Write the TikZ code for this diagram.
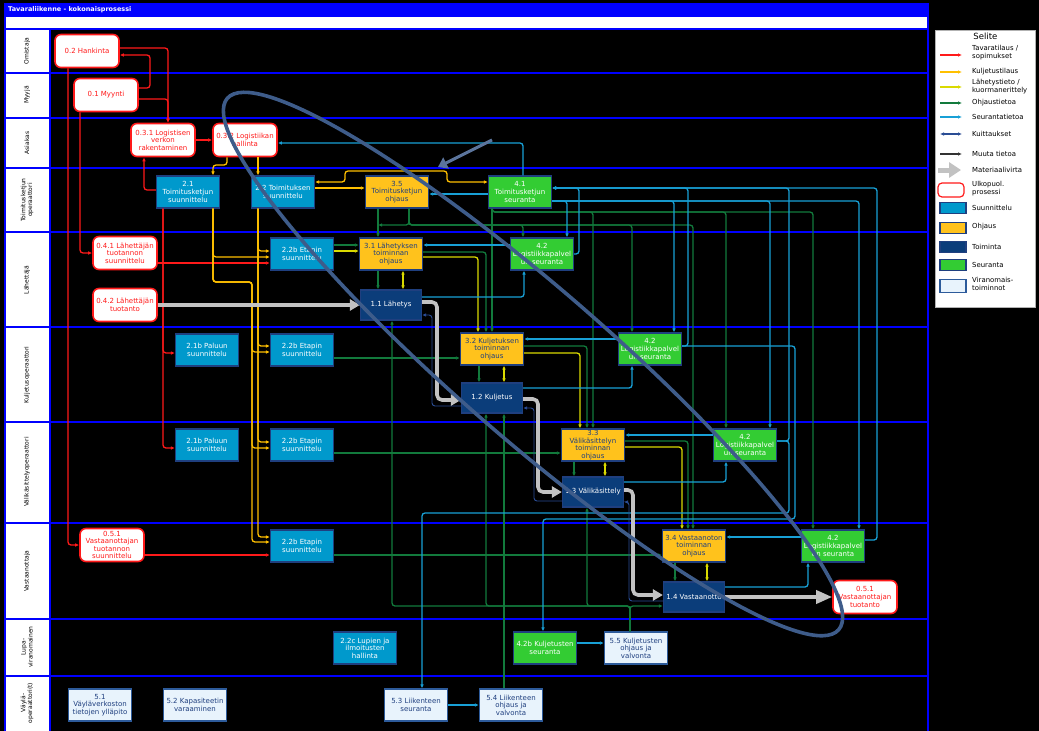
\documentclass[tikz,border=0pt]{standalone}
\usepackage{fontspec}
\setmainfont{DejaVu Sans}
\usetikzlibrary{arrows.meta, positioning}
\definecolor{LaneBlue}{HTML}{0000FF}
\definecolor{BoxEdge}{HTML}{1F3F7F}
\definecolor{PlanBlue}{HTML}{0099CC}
\definecolor{CtrlGold}{HTML}{FFC21C}
\definecolor{OperNavy}{HTML}{0B3D7A}
\definecolor{MonGreen}{HTML}{33CC33}
\definecolor{AuthPale}{HTML}{E8F3FC}
\definecolor{AuthEdge}{HTML}{2D5B9B}
\definecolor{OrderRed}{HTML}{FF1A1A}
\definecolor{TransOrange}{HTML}{FFC000}
\definecolor{ShipYellow}{HTML}{DADA00}
\definecolor{CtrlGreen}{HTML}{127A3C}
\definecolor{MonCyan}{HTML}{18A0D6}
\definecolor{AckNavy}{HTML}{2A4C94}
\definecolor{MatGrey}{HTML}{C2C2C2}
\definecolor{RingBlue}{HTML}{3E5C8A}

\begin{document}
\begin{tikzpicture}[
    x=1pt, y=-1pt,
    box/.style={rectangle, align=center, inner xsep=1pt, inner ysep=0.5pt, line width=1.2pt,
      font=\fontsize{7}{7.6}\selectfont},
    proc/.style={box, minimum width=63pt, minimum height=32pt},
    act/.style={box, minimum width=61pt, minimum height=30pt},
    ext/.style={box, draw=OrderRed, fill=white, text=OrderRed, line width=1.6pt, rounded corners=6pt,
      minimum width=64pt, minimum height=33pt},
    plan/.style={draw=BoxEdge, fill=PlanBlue, text=white},
    ctrl/.style={draw=BoxEdge, fill=CtrlGold, text=BoxEdge},
    oper/.style={draw=BoxEdge, fill=OperNavy, text=white},
    mon/.style={draw=BoxEdge, fill=MonGreen, text=white},
    auth/.style={draw=AuthEdge, fill=AuthPale, text=BoxEdge},
    flow/.style={line width=1.3pt, rounded corners=3pt, -{Latex[length=4pt,width=3.6pt]}},
    both/.style={arrows={Latex[length=4pt,width=3.6pt]-Latex[length=4pt,width=3.6pt]}},
    tav/.style={flow, color=OrderRed},
    kul/.style={flow, color=TransOrange},
    lht/.style={flow, color=ShipYellow},
    ohj/.style={flow, color=CtrlGreen},
    seu/.style={flow, color=MonCyan},
    kui/.style={flow, color=AckNavy, line width=0.9pt},
    muu/.style={flow, color=black!80},
    mat/.style={line width=3.6pt, color=MatGrey, rounded corners=5pt, -{Triangle[length=10pt,width=11pt]}},
    lane/.style={draw=LaneBlue, line width=1.6pt},
    lanelab/.style={rotate=90, align=center, text=black, inner sep=0pt, font=\fontsize{6}{6.8}\selectfont},
    legtxt/.style={anchor=west, align=left, text=black, inner sep=0pt, font=\fontsize{6.9}{8}\selectfont},
    ring/.style={draw=RingBlue, line width=3.6pt},
    notearrow/.style={draw=RingBlue!85!white, line width=3pt, -{Triangle[length=9pt,width=12pt]}}
  ]
    \useasboundingbox (0,0) rectangle (1039,731);
    \fill[black] (0,0) rectangle (1039,731);
    \fill[LaneBlue] (5,3) rectangle (928,17);
    \fill[white] (5,17) rectangle (928,29);
    \fill[white] (5,29) rectangle (50,731);
    \foreach \y in {29,73,118,168,232,327,422,523,619,676}
      \draw[lane] (5,\y) -- (928,\y);
    \draw[lane] (5,3) -- (5,731) (50,29) -- (50,731) (928,3) -- (928,731);
    \node[anchor=west, text=white, inner sep=0pt, font=\fontsize{6.5}{7}\selectfont\bfseries] (title) at (8,10) {Tavaraliikenne - kokonaisprosessi};

    \node[lanelab] (lnOmi) at (27,51) {Omistaja};
    \node[lanelab] (lnMyy) at (27,95) {Myyjä};
    \node[lanelab] (lnAsi) at (27,143) {Asiakas};
    \node[lanelab] (lnTko) at (27,200) {Toimitusketjun\\operaattori};
    \node[lanelab] (lnLah) at (27,280) {Lähettäjä};
    \node[lanelab] (lnKul) at (27,375) {Kuljetusoperaattori};
    \node[lanelab] (lnVal) at (27,472) {Välikäsittelyoperaattori};
    \node[lanelab] (lnVas) at (27,571) {Vastaanottaja};
    \node[lanelab] (lnLup) at (27,647) {Lupa-\\viranomainen};
    \node[lanelab] (lnVay) at (27,703) {Väylä-\\operaattori(t)};

    \node[ext] (hank) at (87,51) {0.2 Hankinta};
    \node[ext] (myyn) at (106,95) {0.1 Myynti};
    \node[ext] (verk) at (163,140) {0.3.1 Logistisen\\verkon\\rakentaminen};
    \node[ext] (hall) at (245,140) {0.3.2 Logistiikan\\hallinta};
    \node[ext] (ltsu) at (125,253) {0.4.1 Lähettäjän\\tuotannon\\suunnittelu};
    \node[ext] (ltuo) at (125,305) {0.4.2 Lähettäjän\\tuotanto};
    \node[ext] (vtsu) at (112,545) {0.5.1\\Vastaanottajan\\tuotannon\\suunnittelu};
    \node[ext] (vtuo) at (865,597) {0.5.1\\Vastaanottajan\\tuotanto};

    \node[proc, plan] (tks) at (188,192) {2.1\\Toimitusketjun\\suunnittelu};
    \node[proc, plan] (tos) at (283,192) {2.2 Toimituksen\\suunnittelu};
    \node[proc, plan] (etL) at (302,254) {2.2b Etapin\\suunnittelu};
    \node[proc, plan] (palK) at (207,350) {2.1b Paluun\\suunnittelu};
    \node[proc, plan] (etK) at (302,350) {2.2b Etapin\\suunnittelu};
    \node[proc, plan] (palW) at (207,445) {2.1b Paluun\\suunnittelu};
    \node[proc, plan] (etW) at (302,445) {2.2b Etapin\\suunnittelu};
    \node[proc, plan] (etV) at (302,546) {2.2b Etapin\\suunnittelu};
    \node[proc, plan] (lupa) at (365,648) {2.2c Lupien ja\\ilmoitusten\\hallinta};

    \node[proc, ctrl] (tko) at (397,192) {3.5\\Toimitusketjun\\ohjaus};
    \node[proc, ctrl] (lho) at (391,254) {3.1 Lähetyksen\\toiminnan\\ohjaus};
    \node[proc, ctrl] (kuo) at (492,349) {3.2 Kuljetuksen\\toiminnan\\ohjaus};
    \node[proc, ctrl] (vko) at (593,445) {3.3\\Välikäsittelyn\\toiminnan\\ohjaus};
    \node[proc, ctrl] (vao) at (694,546) {3.4 Vastaanoton\\toiminnan\\ohjaus};

    \node[act, oper] (lah) at (391,305) {1.1 Lähetys};
    \node[act, oper] (kul) at (492,398) {1.2 Kuljetus};
    \node[act, oper] (vkt) at (593,492) {1.3 Välikäsittely};
    \node[act, oper] (vas) at (694,597) {1.4 Vastaanotto};

    \node[proc, mon] (tkse) at (520,192) {4.1\\Toimitusketjun\\seuranta};
    \node[proc, mon] (lpL) at (542,254) {4.2\\Logistiikkapalvel\\un seuranta};
    \node[proc, mon] (lpK) at (650,349) {4.2\\Logistiikkapalvel\\un seuranta};
    \node[proc, mon] (lpW) at (745,445) {4.2\\Logistiikkapalvel\\un seuranta};
    \node[proc, mon] (lpV) at (833,546) {4.2\\Logistiikkapalvel\\un seuranta};
    \node[proc, mon] (kuse) at (545,648) {4.2b Kuljetusten\\seuranta};

    \node[proc, auth] (koh) at (636,648) {5.5 Kuljetusten\\ohjaus ja\\valvonta};
    \node[proc, auth] (vyp) at (100,705) {5.1\\Väyläverkoston\\tietojen ylläpito};
    \node[proc, auth] (kap) at (195,705) {5.2 Kapasiteetin\\varaaminen};
    \node[proc, auth] (lse) at (416,705) {5.3 Liikenteen\\seuranta};
    \node[proc, auth] (loh) at (511,705) {5.4 Liikenteen\\ohjaus ja\\valvonta};

    \draw[tav] (hank.east |- 0,48) -| (verk.north -| 168,0);
    \draw[tav] (myyn.east |- 0,99) -| (verk.north -| 168,0);
    \draw[tav] (myyn.east |- 0,88) -- (150,88) |- (hank.east |- 0,55);
    \draw[tav] (verk.east) -- (hall.west);
    \draw[tav] (tks.west |- 0,190) -| (verk.south -| 144,0);
    \draw[tav] (hank.south -| 68,0) |- (vtsu.west);
    \draw[tav] (myyn.south -| 80,0) |- (ltsu.west);
    \draw[tav] (tks.south -| 163,0) |- (palK.west |- 0,353);
    \draw[tav] (tks.south -| 163,0) |- (palW.west |- 0,448);
    \draw[tav] (ltsu.east |- 0,263) -- (etL.west |- 0,263);
    \draw[tav] (vtsu.east |- 0,555) -- (etV.west |- 0,555);

    \draw[kul] (hall.south -| 227,0) |- (213,165) -- (tks.north -| 213,0);
    \draw[kul] (hall.south -| 258,0) -- (tos.north -| 258,0);
    \draw[kul, both] (tos.east |- 0,182) -- (345,182) -- (345,171) -- (447,171) -- (447,182) -- (tkse.west |- 0,182);
    \draw[kul] (tos.east |- 0,188) -- (tko.west |- 0,188);
    \draw[kul] (tks.south -| 213,0) |- (etL.west |- 0,257);
    \draw[kul] (tks.south -| 213,0) |- (252,282) |- (etK.west |- 0,352);
    \draw[kul] (tks.south -| 213,0) |- (252,282) |- (etW.west |- 0,448);
    \draw[kul] (tks.south -| 213,0) |- (252,282) |- (etV.west |- 0,542);
    \draw[kul] (tos.south -| 258,0) |- (etL.west |- 0,251);
    \draw[kul] (tos.south -| 258,0) |- (etK.west |- 0,346);
    \draw[kul] (tos.south -| 258,0) |- (etW.west |- 0,442);
    \draw[kul] (tos.south -| 258,0) |- (etV.west |- 0,537);

    \draw[lht] (etL.east |- 0,251) -- (lho.west |- 0,251);
    \draw[lht] (lho.east |- 0,257) -| (kuo.north -| 478,0);
    \draw[lht] (kuo.east |- 0,353) -| (vko.north -| 580,0);
    \draw[lht] (vko.east |- 0,447) -| (vao.north -| 682,0);
    \draw[lht, both] (lho.south -| 403,0) -- (lah.north -| 403,0);
    \draw[lht, both] (kuo.south -| 504,0) -- (kul.north -| 504,0);
    \draw[lht, both] (vko.south -| 605,0) -- (vkt.north -| 605,0);
    \draw[lht, both] (vao.south -| 707,0) -- (vas.north -| 707,0);

    \draw[ohj] (etL.east |- 0,245) -- (lho.west |- 0,245);
    \draw[ohj] (etK.east |- 0,358) -- (kuo.west |- 0,358);
    \draw[ohj] (etW.east |- 0,453) -- (vko.west |- 0,453);
    \draw[ohj] (etV.east |- 0,555) -- (vao.west |- 0,555);
    \draw[ohj] (lho.south -| 378,0) -- (lah.north -| 378,0);
    \draw[ohj] (kuo.south -| 479,0) -- (kul.north -| 479,0);
    \draw[ohj] (vko.south -| 574,0) -- (vkt.north -| 574,0);
    \draw[ohj] (vao.south -| 675,0) -- (vas.north -| 675,0);
    \draw[ohj] (lho.east |- 0,252) -| (kuo.north -| 486,0);
    \draw[ohj] (kuo.east |- 0,346) -| (vko.north -| 587,0);
    \draw[ohj] (vko.east |- 0,441) -| (vao.north -| 688,0);
    \draw[ohj] (tko.south -| 378,0) -- (lho.north -| 378,0);
    \draw[ohj] (tko.south -| 409,0) |- (378,225);
    \draw[ohj] (tko.south -| 409,0) |- (523,225) -- (lpL.north -| 523,0);
    \draw[ohj] (tko.south -| 409,0) |- (632,225) -- (lpK.north -| 632,0);
    \draw[ohj] (tko.south -| 409,0) |- (693,225) -- (vao.north -| 693,0);
    \draw[ohj] (tkse.south -| 492,0) -- (kuo.north -| 492,0);
    \draw[ohj] (tkse.south -| 492,0) |- (593,212) -- (vko.north -| 593,0);
    \draw[ohj] (tkse.south -| 492,0) |- (726,212) -- (lpW.north -| 726,0);
    \draw[ohj] (tkse.south -| 492,0) |- (813,212) -- (lpV.north -| 813,0);
    \draw[ohj] (koh.north -| 630,0) |- (vas.west |- 0,606);
    \draw[ohj] (koh.north -| 630,0) |- (392,606) -- (lah.south -| 392,0);
    \draw[ohj] (koh.north -| 630,0) |- (486,606) -- (kul.south -| 486,0);
    \draw[ohj] (koh.north -| 630,0) |- (587,606) -- (vkt.south -| 587,0);
    \draw[ohj] (loh.north -| 504,0) -- (kul.south -| 504,0);

    \draw[seu] (tkse.north -| 523,0) |- (hall.east |- 0,143);
    \draw[seu] (tkse.west |- 0,194) -- (tko.east |- 0,194);
    \draw[seu] (tkse.east |- 0,201) -| (lpL.north -| 567,0);
    \draw[seu] (tkse.east |- 0,201) -| (lpK.north -| 674,0);
    \draw[seu] (tkse.east |- 0,201) -| (lpW.north -| 770,0);
    \draw[seu] (tkse.east |- 0,201) -| (lpV.north -| 859,0);
    \draw[seu] (lpL.east |- 0,254) -| (579,188) -- (tkse.east |- 0,188);
    \draw[seu] (lpK.east |- 0,346) -| (688,188) -- (tkse.east |- 0,188);
    \draw[seu] (lpW.east |- 0,441) -| (789,188) -- (tkse.east |- 0,188);
    \draw[seu] (lpV.east |- 0,540) -| (877,188) -- (tkse.east |- 0,188);
    \draw[seu] (lah.east |- 0,297) -| (lpL.south -| 524,0);
    \draw[seu] (kul.east |- 0,388) -| (lpK.south -| 632,0);
    \draw[seu] (vkt.east |- 0,482) -| (lpW.south -| 726,0);
    \draw[seu] (vas.east |- 0,587) -| (lpV.south -| 808,0);
    \draw[seu] (lpL.west |- 0,245) -- (lho.east |- 0,245);
    \draw[seu] (lpK.west |- 0,339) -- (kuo.east |- 0,339);
    \draw[seu] (lpW.west |- 0,435) -- (vko.east |- 0,435);
    \draw[seu] (lpV.west |- 0,537) -- (vao.east |- 0,537);
    \draw[seu] (lpK.east |- 0,346) -| (795,519) -| (kuse.north -| 543,0);
    \draw[seu] (lpW.east |- 0,441) -| (789,513) -| (lse.north -| 422,0);
    \draw[seu] (lse.east) -- (loh.west);
    \draw[seu] (kuse.east |- 0,643) -- (koh.west |- 0,643);

    \draw[kui] (kul.west |- 0,406) -| (432,315) -- (lah.east |- 0,315);
    \draw[kui] (vkt.west |- 0,501) -| (534,408) -- (kul.east |- 0,408);
    \draw[kui] (vas.west |- 0,601) -| (629,502) -- (vkt.east |- 0,502);

    \draw[mat] (ltuo.east) -- (lah.west);
    \draw[mat] (lah.east |- 0,302) -| (437,400) -- (kul.west |- 0,400);
    \draw[mat] (kul.east |- 0,399) -| (538,492) -- (vkt.west);
    \draw[mat] (vkt.east |- 0,490) -| (633,595) -- (vas.west |- 0,595);
    \draw[mat, -{Triangle[length=16pt,width=13pt]}] (vas.east) -- (vtuo.west);

    \node[draw=gray!60, fill=white, line width=0.8pt, minimum width=100pt, minimum height=277pt,
      anchor=north west, inner sep=0pt] (legend) at (935,30) {};
    \node[text=black, inner sep=0pt, font=\fontsize{8.5}{9}\selectfont, below=3pt of legend.north] (lgHead) {Selite};
    \node[legtxt] (lgTav) at (972,53) {Tavaratilaus /\\sopimukset};
    \node[legtxt] (lgKul) at (972,72) {Kuljetustilaus};
    \node[legtxt] (lgLht) at (972,87) {Lähetystieto /\\kuormanerittely};
    \node[legtxt] (lgOhj) at (972,103) {Ohjaustietoa};
    \node[legtxt] (lgSeu) at (972,117) {Seurantatietoa};
    \node[legtxt] (lgKui) at (972,134) {Kuittaukset};
    \node[legtxt] (lgMuu) at (972,154) {Muuta tietoa};
    \node[legtxt] (lgMat) at (972,170) {Materiaalivirta};
    \node[legtxt] (lgUlk) at (972,189) {Ulkopuol.\\prosessi};
    \node[legtxt] (lgSuu) at (972,208) {Suunnittelu};
    \node[legtxt] (lgOhs) at (972,227) {Ohjaus};
    \node[legtxt] (lgToi) at (972,247) {Toiminta};
    \node[legtxt] (lgSer) at (972,265) {Seuranta};
    \node[legtxt] (lgVir) at (972,284) {Viranomais-\\toiminnot};

    \draw[tav] ([xshift=-32pt, yshift=-2pt]lgTav.west) -- ([xshift=-10pt, yshift=-2pt]lgTav.west);
    \draw[kul] ([xshift=-32pt]lgKul.west) -- ([xshift=-10pt]lgKul.west);
    \draw[lht] ([xshift=-32pt]lgLht.west) -- ([xshift=-10pt]lgLht.west);
    \draw[ohj] ([xshift=-32pt]lgOhj.west) -- ([xshift=-10pt]lgOhj.west);
    \draw[seu] ([xshift=-32pt]lgSeu.west) -- ([xshift=-10pt]lgSeu.west);
    \draw[kui, line width=1.3pt, both] ([xshift=-32pt]lgKui.west) -- ([xshift=-10pt]lgKui.west);
    \draw[muu] ([xshift=-32pt]lgMuu.west) -- ([xshift=-10pt]lgMuu.west);
    \draw[mat, line width=5pt, -{Triangle[length=12pt,width=15pt]}] ([xshift=-34pt]lgMat.west) -- ([xshift=-11pt]lgMat.west);
    \node[ext, minimum width=26pt, minimum height=14pt, rounded corners=4pt, line width=1.2pt] (lsUlk) at (951,190) {};
    \node[box, plan, minimum width=26pt, minimum height=11pt] (lsSuu) at (953,208) {};
    \node[box, ctrl, minimum width=26pt, minimum height=11pt] (lsOhs) at (953,228) {};
    \node[box, oper, minimum width=26pt, minimum height=11pt] (lsToi) at (953,247) {};
    \node[box, mon, minimum width=26pt, minimum height=11pt] (lsSer) at (953,265) {};
    \node[box, auth, minimum width=26pt, minimum height=13pt] (lsVir) at (953,286) {};

    \coordinate (ringC) at (533,364);
    \draw[ring, rotate around={-41:(ringC)}] (ringC) ellipse [x radius=405pt, y radius=75pt];
    \coordinate (noteTail) at (492,140);
    \coordinate (noteTip) at (438,167);
    \draw[notearrow] (noteTail) -- (noteTip);
  \end{tikzpicture}
\end{document}
